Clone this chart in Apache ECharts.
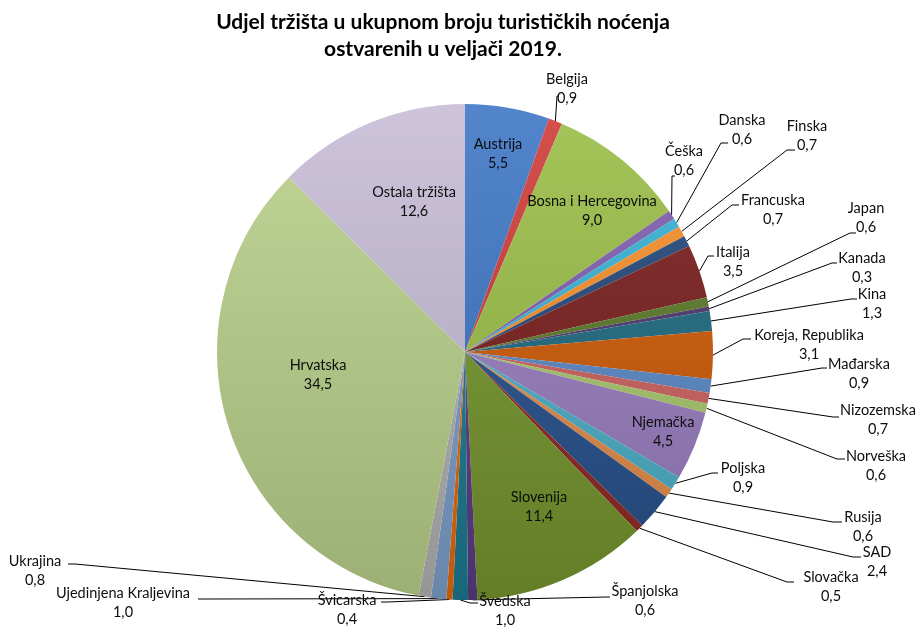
<!DOCTYPE html>
<html><head><meta charset="utf-8">
<script src="https://cdn.jsdelivr.net/npm/echarts@6/dist/echarts.min.js"></script>
<style>html,body{margin:0;padding:0;background:#fff}#c{width:919px;height:628px}</style>
</head><body><div id="c"></div>
<script>
const categories = ['Austrija','Belgija','Bosna i Hercegovina','Češka','Danska','Finska','Francuska','Italija','Japan','Kanada','Kina','Koreja, Republika','Mađarska','Nizozemska','Norveška','Njemačka','Poljska','Rusija','SAD','Slovačka','Slovenija','Španjolska','Švedska','Švicarska','Ujedinjena Kraljevina','Ukrajina','Hrvatska','Ostala tržišta'];
const values = [5.5,0.9,9.0,0.6,0.6,0.7,0.7,3.5,0.6,0.3,1.3,3.1,0.9,0.7,0.6,4.5,0.9,0.6,2.4,0.5,11.4,0.6,1.0,0.4,1.0,0.8,34.5,12.6];
const titleLines = ['Udjel tržišta u ukupnom broju turističkih noćenja','ostvarenih u veljači 2019.'];
const insideLabels = ['Austrija','Bosna i Hercegovina','Njemačka','Slovenija','Hrvatska','Ostala tržišta'];

// styles
const palette = ['#3f77c6','#d03c38','#9bbf48','#7f5fb0','#38b3d6','#f7902b','#23487b','#7a1e1d','#5a7a28','#4d386d','#1e6a80','#cf5a06','#5b8ac9','#ce6360','#a8c86c','#9a7ec2','#4cb0c9','#e68e4a','#27518d','#8f2824','#76962d','#5a3b82','#1d7a91','#e46a0a','#7d9fcc','#b2b2b2','#bad18b','#c7bdd8'];
const labelPos = {
  'Austrija':[498,154],'Belgija':[567,89],'Bosna i Hercegovina':[592,211],'Češka':[684,161],'Danska':[742,130],
  'Finska':[807,136],'Francuska':[773,210],'Italija':[733,262],'Japan':[866,218],'Kanada':[862,268],'Kina':[872,304],
  'Koreja, Republika':[809,345],'Mađarska':[859,374],'Nizozemska':[878,420],'Norveška':[876,466],'Njemačka':[663,432],
  'Poljska':[743,478],'Rusija':[863,527],'SAD':[877,562],'Slovačka':[831,587],'Slovenija':[539,507],'Španjolska':[645,601],
  'Švedska':[505,611],'Švicarska':[347,610],'Ujedinjena Kraljevina':[123,603],'Ukrajina':[35,571],'Hrvatska':[318,375],'Ostala tržišta':[414,202]
};
// [elbowX, endX, y]
const leaders = {
  'Belgija':[557,559,96],'Češka':[672,675,176],'Danska':[721,728,143],'Finska':[787,795,150],'Francuska':[732,739,205],
  'Italija':[708,714,256],'Japan':[850,856,233],'Kanada':[832,837,263],'Kina':[851,857,299],'Koreja, Republika':[743,751,339],
  'Mađarska':[822,827,368],'Nizozemska':[833,839,417],'Norveška':[837,845,459],'Poljska':[712,718,473],'Rusija':[833,842,522],
  'SAD':[853,861,557],'Slovačka':[787,794,582],'Španjolska':[607,610,597],'Švedska':[470,478,603],'Švicarska':[388,381,602],
  'Ujedinjena Kraljevina':[205,198,599],'Ukrajina':[75,68,564]
};
function shade(hex, f) {
  const n = parseInt(hex.slice(1), 16);
  let c = [(n >> 16) & 255, (n >> 8) & 255, n & 255];
  c = c.map(v => Math.round(f >= 0 ? v + (255 - v) * f : v * (1 + f)));
  return 'rgb(' + c.join(',') + ')';
}
const cx = 465, cy = 352, r = 248;
const data = categories.map((n, i) => {
  const inside = insideLabels.indexOf(n) >= 0;
  return {
    name: n, value: values[i],
    itemStyle: { color: { type: 'linear', x: 0, y: cy - r, x2: 0, y2: cy + r, global: true,
      colorStops: [{ offset: 0, color: shade(palette[i], 0.1) }, { offset: 1, color: shade(palette[i], -0.16) }] } },
    label: { position: inside ? 'inside' : 'outside' },
    labelLine: { show: !inside }
  };
});
const chart = echarts.init(document.getElementById('c'), null, { renderer: 'canvas' });
chart.setOption({
  backgroundColor: '#fff',
  animation: false,
  graphic: [{ type: 'text', x: 443, y: 36, style: { text: titleLines.join('\n'), align: 'center', verticalAlign: 'middle',
    fontFamily: 'Lato', fontWeight: 'bold', fontSize: 21, lineHeight: 27, fill: '#000' } }],
  series: [{
    type: 'pie',
    center: [cx, cy], radius: r,
    startAngle: 90, clockwise: true,
    avoidLabelOverlap: false,
    minAngle: 0,
    data: data,
    itemStyle: { borderWidth: 0 },
    label: {
      show: true, color: '#0d0d0d', fontFamily: 'Lato', fontSize: 14.5, lineHeight: 19, align: 'center',
      formatter: p => p.name + '\n' + p.value.toFixed(1).replace('.', ',')
    },
    labelLine: { show: true, length: 10, length2: 5, lineStyle: { color: '#000', width: 1 } },
    labelLayout: function (params) {
      const name = categories[params.dataIndex];
      const pos = labelPos[name];
      const out = { x: pos[0], y: pos[1], align: 'center', verticalAlign: 'middle', hideOverlap: false, moveOverlap: null };
      const ld = leaders[name];
      if (ld && params.labelLinePoints) {
        const s = params.labelLinePoints[0];
        out.labelLinePoints = [[s[0], s[1]], [ld[0], ld[2]], [ld[1], ld[2]]];
      }
      return out;
    }
  }]
});
</script></body></html>
